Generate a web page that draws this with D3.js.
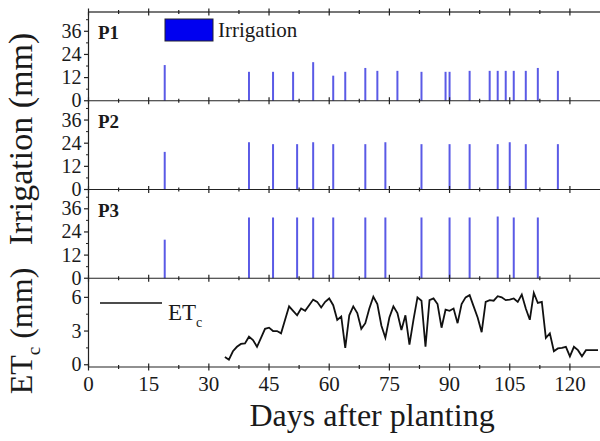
<!DOCTYPE html>
<html>
<head>
<meta charset="utf-8">
<script src="https://cdn.jsdelivr.net/npm/d3@7"></script>
<style>
  body { margin: 0; background: #fff; }
  svg text { font-family: "Liberation Serif", "DejaVu Serif", serif; fill: #1a1a1a; }
</style>
</head>
<body>
<div id="chart"></div>
<script>
// irrigation events (day after planting, mm)
const p1Days = [19, 40, 46, 51, 56, 61, 64, 69, 72, 77, 83, 89, 90, 95, 100, 102, 104, 106, 109, 112, 117];
const p1Vals = [18.5, 15, 15, 15, 20, 13, 15, 17, 15.5, 15.5, 15, 15, 15, 15.5, 15.5, 15.5, 15.5, 15.5, 15.5, 17, 15.5];
const p2Days = [19, 40, 46, 52, 56, 61, 69, 74, 83, 90, 95, 102, 105, 109, 117];
const p2Vals = [19.5, 24.5, 23.5, 23.5, 24.5, 23.5, 23.5, 24.5, 23.5, 23.5, 23.5, 23.5, 24.5, 23.5, 23.5];
const p3Days = [19, 40, 46, 52, 56, 61, 69, 74, 83, 90, 95, 102, 106, 112];
const p3Vals = [20, 31.5, 31.5, 31.5, 31.5, 31.5, 31.5, 31.5, 31.5, 31.5, 31.5, 32, 31.5, 31.5];

// crop evapotranspiration, daily
const etDays = d3.range(34, 128);
const etVals = [0.7, 0.45, 1.2, 1.6, 1.85, 1.9, 2.5, 2.2, 1.6, 2.4,
  3.2, 3.3, 3.0, 3.0, 2.8, 4.0, 5.2, 4.8, 4.4, 5.0,
  4.8, 5.3, 5.8, 5.6, 5.1, 5.6, 5.9, 5.3, 4.0, 4.3,
  1.5, 4.4, 5.2, 4.6, 3.2, 3.7, 5.0, 6.05, 5.4, 3.5,
  2.4, 4.2, 5.2, 4.6, 3.1, 4.4, 1.8, 4.0, 6.0, 5.7,
  1.6, 5.75, 5.9, 5.4, 3.3, 4.9, 4.8, 5.0, 3.7, 5.4,
  6.0, 6.2, 5.2, 4.2, 2.9, 5.6, 5.75, 5.7, 6.1, 6.0,
  5.75, 5.8, 5.9, 5.6, 6.25, 5.0, 4.0, 6.4, 5.5, 5.6,
  2.4, 2.8, 1.2, 1.45, 1.5, 1.6, 0.75, 1.6, 1.3, 0.75,
  1.3, 1.3, 1.3, 1.3];

const irrTicks = [0, 12, 24, 36];
const etTicks = [0, 3, 6];
const xTicks = [0, 15, 30, 45, 60, 75, 90, 105, 120];

const width = 600, height = 441;
const plotLeft = 88.5, plotRight = 598;
const plotTop = 12, plotBottom = 367;
const ph = (plotBottom - plotTop) / 4;

const svg = d3.select('#chart').append('svg')
  .attr('width', width)
  .attr('height', height);

const x = d3.scaleLinear().domain([0, 127]).range([plotLeft, plotRight]);

const panels = [
  {name: 'P1', days: p1Days, vals: p1Vals},
  {name: 'P2', days: p2Days, vals: p2Vals},
  {name: 'P3', days: p3Days, vals: p3Vals}
];

function xTicksAt(y0) {
  const g = svg.append('g');
  d3.range(0, 127, 7.5).forEach(t => {
    const major = t % 15 === 0;
    g.append('line')
      .attr('x1', x(t)).attr('x2', x(t))
      .attr('y1', y0 - (major ? 3.5 : 2)).attr('y2', y0 + (major ? 3.5 : 2))
      .attr('stroke', '#222').attr('stroke-width', 1.2);
  });
}

function yTicks(y, ticks, minor) {
  const g = svg.append('g');
  minor.forEach(t => {
    g.append('line').attr('x1', plotLeft - 2.5).attr('x2', plotLeft)
      .attr('y1', y(t)).attr('y2', y(t))
      .attr('stroke', '#222').attr('stroke-width', 1);
  });
  ticks.forEach(t => {
    g.append('line').attr('x1', plotLeft - 4.5).attr('x2', plotLeft)
      .attr('y1', y(t)).attr('y2', y(t))
      .attr('stroke', '#222').attr('stroke-width', 1.2);
    g.append('text').attr('x', plotLeft - 7).attr('y', y(t) + 6.5)
      .attr('text-anchor', 'end').attr('font-size', 20).text(t);
  });
}

panels.forEach((p, i) => {
  const y0 = plotTop + ph * (i + 1);
  const y = d3.scaleLinear().domain([0, 46]).range([y0, y0 - ph]);

  svg.append('g').selectAll('line')
    .data(p.days.map((d, k) => [d, p.vals[k]]))
    .enter().append('line')
    .attr('x1', d => x(d[0])).attr('x2', d => x(d[0]))
    .attr('y1', y(0)).attr('y2', d => y(d[1]))
    .attr('stroke', '#5a5ae6')
    .attr('stroke-width', 2);

  yTicks(y, irrTicks, [6, 18, 30, 42]);

  svg.append('text').attr('x', 98).attr('y', y0 - ph + 27)
    .attr('font-size', 19).attr('font-weight', 'bold').text(p.name);
});

// ET panel
const yEt = d3.scaleLinear().domain([-0.2, 7.7]).range([plotBottom, plotBottom - ph]);
svg.append('path')
  .datum(etDays.map((d, k) => [d, etVals[k]]))
  .attr('fill', 'none')
  .attr('stroke', '#111')
  .attr('stroke-width', 1.8)
  .attr('d', d3.line().x(d => x(d[0])).y(d => yEt(d[1])));
yTicks(yEt, etTicks, [1.5, 4.5]);

// panel boundaries
svg.append('line').attr('x1', plotLeft).attr('x2', plotRight + 2).attr('y1', plotTop).attr('y2', plotTop)
  .attr('stroke', '#777').attr('stroke-width', 2);
for (let i = 1; i <= 4; i++) {
  const yy = plotTop + ph * i;
  svg.append('line').attr('x1', plotLeft).attr('x2', plotRight + 2).attr('y1', yy).attr('y2', yy)
    .attr('stroke', '#222').attr('stroke-width', 1.2);
}
for (let i = 0; i <= 4; i++) xTicksAt(plotTop + ph * i);
svg.append('line').attr('x1', plotLeft).attr('x2', plotLeft).attr('y1', plotTop).attr('y2', plotBottom)
  .attr('stroke', '#222').attr('stroke-width', 1.2);

// x tick labels
xTicks.forEach(t => {
  svg.append('text').attr('x', x(t)).attr('y', 391)
    .attr('text-anchor', 'middle').attr('font-size', 21).text(t);
});

// legends
svg.append('rect').attr('x', 165).attr('y', 19).attr('width', 48).attr('height', 22)
  .attr('fill', '#0000f0').attr('stroke', '#223').attr('stroke-width', 1);
svg.append('text').attr('x', 218).attr('y', 37).attr('font-size', 21).text('Irrigation');

svg.append('line').attr('x1', 100).attr('x2', 162).attr('y1', 303).attr('y2', 303)
  .attr('stroke', '#111').attr('stroke-width', 1.6);
const etLab = svg.append('text').attr('x', 168).attr('y', 320).attr('font-size', 23);
etLab.append('tspan').text('ET');
etLab.append('tspan').attr('font-size', 14).attr('dy', 7).text('c');

// axis titles
svg.append('text')
  .attr('transform', 'translate(32,139) rotate(-90)')
  .attr('text-anchor', 'middle').attr('font-size', 34).text('Irrigation (mm)');
const etTitle = svg.append('text')
  .attr('transform', 'translate(32,331) rotate(-90)')
  .attr('text-anchor', 'middle').attr('font-size', 32);
etTitle.append('tspan').text('ET');
etTitle.append('tspan').attr('font-size', 19).attr('dy', 8).text('c');
etTitle.append('tspan').attr('dy', -8).text(' (mm)');

svg.append('text').attr('x', 372).attr('y', 426)
  .attr('text-anchor', 'middle').attr('font-size', 32).text('Days after planting');
</script>
</body>
</html>
